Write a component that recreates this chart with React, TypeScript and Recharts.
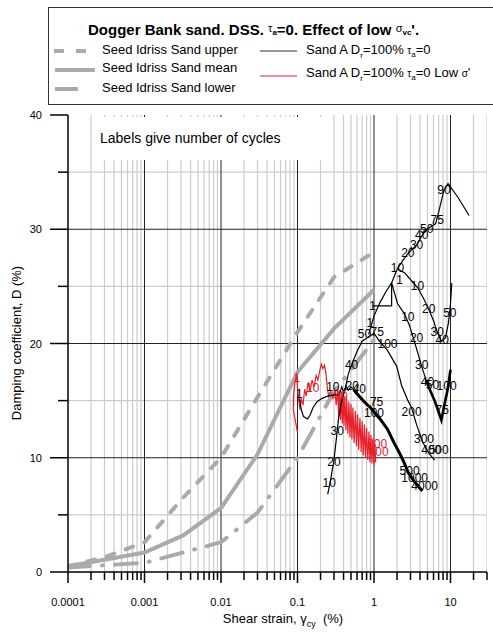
import { ComposedChart, Line, Scatter, XAxis, YAxis } from "recharts";

const xTickLabels = ["0.0001", "0.001", "0.01", "0.1", "1", "10"];
const yTickLabels = ["0", "10", "20", "30", "40"];

// Seed & Idriss bounds (gray)
const seedUpper = [
  [0.0001, 0.5], [0.0003, 1.3], [0.001, 2.6], [0.003, 6.3], [0.01, 10],
  [0.03, 15.3], [0.1, 21], [0.3, 25.8], [1, 28],
];
const seedMean = [
  [0.0001, 0.5], [0.001, 1.7], [0.0032, 3.2], [0.01, 5.6], [0.03, 10.3],
  [0.1, 17.5], [0.3, 21.3], [1, 24.7],
];
const seedLower = [
  [0.0001, 0.4], [0.001, 0.8], [0.01, 2.6], [0.03, 5.2], [0.1, 10],
  [0.3, 15.8], [1, 20.3],
];

// Sand A, Dr=100%, tau_a=0
const testA = [
  [0.248, 6.8], [0.27, 8], [0.3, 9.8], [0.32, 11.5], [0.345, 13.5], [0.38, 15],
  [0.42, 16], [0.46, 17.3], [0.52, 18.3], [0.6, 19.3], [0.7, 20.2], [0.85, 20.6],
  [1.0, 20.9], [1.15, 20.3], [1.5, 19.4], [1.98, 18], [2.3, 16.3], [2.78, 15],
  [3.1, 14.4], [3.6, 12.9], [4.3, 11.4], [5.2, 10.4], [6.2, 9.8],
];
const testB = [
  [0.85, 20.8], [1.0, 22.4], [1.2, 23.6], [1.45, 24.6], [1.7, 25.3], [2.0, 26.5],
  [2.4, 27.3], [2.8, 27.9], [3.6, 28.6], [4.2, 29.4], [4.9, 30.0], [5.8, 30.3],
  [6.4, 30.5], [7.0, 31.5], [8.2, 33.4], [9.3, 34.0], [12.5, 32.8], [17.5, 31.2],
];
const testEThin = [
  [0.96, 23.3], [1.7, 23.3], [1.7, 25.3], [2.03, 23.5], [2.5, 22.6], [2.9, 21.6],
  [3.4, 20.1], [3.8, 19.0], [4.2, 18.0], [4.8, 16.8],
];
const testEThick = [
  [4.8, 16.8], [5.5, 15.8], [6.2, 15.0], [7.0, 14.0], [7.6, 13.3], [8.3, 14.6],
  [9.2, 16.0], [10, 17.7],
];
const testD = [
  [2.05, 26.5], [2.5, 26.2], [3.0, 25.6], [3.7, 24.9], [4.4, 24.0], [5.2, 23.0],
  [6.0, 22.0], [6.7, 21.0], [7.6, 20.2], [8.6, 20.5], [9.4, 21.8], [10, 23.5],
  [10.4, 25.3],
];
const testFThin = [
  [0.106, 15.2], [0.112, 14.2], [0.12, 13.6], [0.135, 13.4], [0.145, 13.7],
  [0.16, 14.4], [0.18, 14.9], [0.21, 15.2], [0.25, 15.4], [0.3, 15.5], [0.35, 15.5],
  [0.38, 16.2], [0.4, 15.7], [0.43, 16.3], [0.46, 15.9], [0.5, 16.2], [0.55, 15.9],
];
const testFThick = [
  [0.55, 15.9], [0.6, 15.6], [0.7, 15.1], [0.8, 14.7], [0.9, 14.4], [1.0, 14.0],
  [1.2, 13.4], [1.5, 12.5], [1.8, 11.4], [2.2, 10.3], [2.5, 9.5], [2.8, 8.7],
  [3.3, 8.0], [3.9, 7.4], [4.3, 7.1],
];

// Sand A, low sigma' (red)
const testLow = [
  [0.1, 12.2], [0.094, 13.2], [0.088, 14.2], [0.089, 15.5], [0.092, 16.5], [0.097, 17.3],
  [0.1, 16.2], [0.104, 15], [0.108, 14.2], [0.112, 15.2], [0.118, 14.6], [0.124, 16],
  [0.13, 15.4], [0.138, 16.6], [0.146, 15.8], [0.155, 16.8], [0.165, 16.2], [0.175, 17.2],
  [0.185, 16.8], [0.195, 17.6], [0.205, 18.2], [0.215, 17.8], [0.225, 18.1], [0.235, 17.4],
  [0.245, 16.2], [0.255, 15.4], [0.27, 15.8], [0.29, 15.2], [0.31, 15.9], [0.32, 14.6],
  [0.335, 16.0], [0.345, 13.6], [0.355, 15.9], [0.365, 13.3], [0.375, 15.8], [0.385, 13.0],
  [0.395, 15.6], [0.405, 12.8], [0.415, 15.4], [0.43, 12.4], [0.44, 15.2], [0.455, 12.1],
  [0.47, 14.9], [0.485, 11.8], [0.5, 14.7], [0.515, 11.6], [0.53, 14.4], [0.55, 11.3],
  [0.57, 14.1], [0.59, 11.0], [0.61, 13.8], [0.63, 10.7], [0.655, 13.5], [0.68, 10.5],
  [0.7, 13.2], [0.725, 10.2], [0.75, 12.9], [0.775, 10.0], [0.8, 12.6], [0.83, 9.8],
  [0.86, 12.3], [0.885, 9.6], [0.91, 12.0], [0.94, 9.5], [0.97, 11.7], [1.0, 9.4],
  [1.03, 11.2], [1.05, 9.6],
];

// cycle-count labels: [x, y, text]
const labelsBlack: [number, number, string][] = [
  [0.26, 7.8, "10"], [0.3, 9.6, "20"], [0.33, 12.3, "30"], [0.51, 18.1, "40"],
  [0.75, 20.8, "50"], [1.1, 21.0, "75"], [1.5, 20.0, "100"], [3.1, 14.0, "200"],
  [4.5, 11.6, "300"], [5.6, 10.7, "400"], [7.0, 10.7, "500"],
  [0.88, 21.8, "1"], [2.03, 26.6, "10"], [2.77, 27.9, "20"], [3.6, 28.6, "30"],
  [4.2, 29.5, "40"], [4.9, 30.0, "50"], [6.7, 30.8, "75"], [8.2, 33.4, "90"],
  [0.96, 23.3, "1"], [2.77, 22.3, "10"], [3.6, 20.5, "20"], [4.2, 18.1, "30"],
  [5.0, 16.6, "40"], [5.8, 16.4, "50"], [7.8, 14.2, "75"], [8.9, 16.3, "100"],
  [2.16, 25.6, "1"], [3.7, 25.0, "10"], [5.2, 23.0, "20"], [6.7, 21.0, "30"],
  [7.8, 20.3, "40"], [9.8, 22.7, "50"],
  [0.106, 15.6, "1"], [0.29, 16.2, "10"], [0.52, 16.3, "20"], [0.64, 16.0, "40"],
  [1.08, 14.9, "75"], [1.0, 13.9, "100"], [2.92, 8.8, "500"], [3.4, 8.2, "1000"],
  [4.6, 7.5, "4000"],
];
const labelsRed: [number, number, string][] = [
  [0.098, 17.0, "1"], [0.158, 16.1, "10"], [0.37, 15.4, "40"], [1.1, 11.2, "300"],
  [1.15, 10.5, "400"],
];

const pts = (a: number[][]) => a.map(([x, y]) => ({ x, y }));
const lbl = (a: [number, number, string][]) => a.map(([x, y, t]) => ({ x, y, t }));

const decades = xTickLabels.map(Number);
const minorX = decades
  .flatMap((d) => [2, 3, 4, 5, 6, 7, 8, 9].map((m) => Number((m * d).toPrecision(3))))
  .filter((v) => v <= 30);
const xTicks = [...decades, ...minorX].sort((a, b) => a - b);
const yTicks = [0, 5, 10, 15, 20, 25, 30, 35, 40];

const vLines = (vals: number[]) =>
  vals.flatMap((v) => [{ x: v, y: 0 }, { x: v, y: 40 }, { x: v, y: null }]);
const hLines = (vals: number[]) =>
  vals.flatMap((h) => [{ x: 0.0001, y: h }, { x: 30, y: h }, { x: 30, y: null }]);

const FONT = "Arial, 'Liberation Sans', sans-serif";

const XTick = (p: any) => {
  const v = p.payload.value;
  const i = decades.indexOf(v);
  const major = i >= 0;
  return (
    <g>
      <line x1={p.x} x2={p.x} y1={p.y} y2={p.y + (major ? 11 : 8)} stroke="#000" strokeWidth={1.5} />
      {major && (
        <text x={p.x} y={p.y + 34} textAnchor="middle" fontSize={11} fontFamily={FONT} fill="#000">
          {xTickLabels[i]}
        </text>
      )}
    </g>
  );
};

const YTick = (p: any) => {
  const v = p.payload.value;
  const i = yTickLabels.indexOf(String(v));
  const major = i >= 0;
  return (
    <g>
      <line x1={p.x - (major ? 18 : 10)} x2={p.x} y1={p.y} y2={p.y} stroke="#000" strokeWidth={1.5} />
      {major && (
        <text x={p.x - 26} y={p.y + 4} textAnchor="end" fontSize={11} fontFamily={FONT} fill="#000">
          {yTickLabels[i]}
        </text>
      )}
    </g>
  );
};

const textShape = (color: string) => (p: any) => (
  <text
    x={p.cx}
    y={p.cy}
    textAnchor="middle"
    dominantBaseline="central"
    fontSize={12}
    fontFamily={FONT}
    fill={color}
  >
    {p.payload.t}
  </text>
);

const GRAY = "#aaaaaa";
const RED = "#e8202a";

export default function App() {
  return (
    <div style={{ position: "absolute", left: 0, top: 0, width: 493, height: 633, fontFamily: FONT, background: "#fff" }}>
      <ComposedChart width={493} height={633} margin={{ top: 115, right: 6, bottom: 60, left: 67 }}>
        <XAxis
          dataKey="x"
          type="number"
          scale="log"
          domain={[0.0001, 30]}
          allowDataOverflow
          ticks={xTicks}
          interval={0}
          height={1}
          tickSize={0}
          tickMargin={0}
          tickLine={false}
          tick={XTick}
          axisLine={{ stroke: "#000", strokeWidth: 1.5 }}
        />
        <YAxis
          dataKey="y"
          type="number"
          domain={[0, 40]}
          allowDataOverflow
          ticks={yTicks}
          interval={0}
          width={1}
          tickSize={0}
          tickMargin={0}
          tickLine={false}
          tick={YTick}
          axisLine={{ stroke: "#000", strokeWidth: 1.5 }}
        />

        {/* grid */}
        <Line data={vLines(minorX)} dataKey="y" stroke="#cccccc" strokeWidth={1.2} dot={false} activeDot={false} isAnimationActive={false} />
        <Line data={hLines([5, 15, 25, 35])} dataKey="y" stroke="#cccccc" strokeWidth={1.2} dot={false} activeDot={false} isAnimationActive={false} />
        <Line data={vLines(decades.slice(1))} dataKey="y" stroke="#222" strokeWidth={1} dot={false} activeDot={false} isAnimationActive={false} />
        <Line data={hLines([10, 20, 30])} dataKey="y" stroke="#222" strokeWidth={1} dot={false} activeDot={false} isAnimationActive={false} />

        {/* Seed & Idriss */}
        <Line data={pts(seedUpper)} dataKey="y" stroke={GRAY} strokeWidth={4} strokeDasharray="8 12" strokeLinecap="round" dot={false} activeDot={false} isAnimationActive={false} />
        <Line data={pts(seedMean)} dataKey="y" stroke={GRAY} strokeWidth={4} dot={false} activeDot={false} isAnimationActive={false} />
        <Line data={pts(seedLower)} dataKey="y" stroke={GRAY} strokeWidth={4} strokeDasharray="22 12 1 12" strokeLinecap="round" dot={false} activeDot={false} isAnimationActive={false} />

        {/* low sigma' test */}
        <Line data={pts(testLow)} dataKey="y" type="linear" stroke={RED} strokeWidth={1.2} dot={false} activeDot={false} isAnimationActive={false} />

        {/* Sand A tests */}
        <Line data={pts(testA)} dataKey="y" stroke="#000" strokeWidth={1.2} dot={false} activeDot={false} isAnimationActive={false} />
        <Line data={pts(testB)} dataKey="y" stroke="#000" strokeWidth={1.2} dot={false} activeDot={false} isAnimationActive={false} />
        <Line data={pts(testEThin)} dataKey="y" stroke="#000" strokeWidth={1.2} dot={false} activeDot={false} isAnimationActive={false} />
        <Line data={pts(testEThick)} dataKey="y" stroke="#000" strokeWidth={2.6} dot={false} activeDot={false} isAnimationActive={false} />
        <Line data={pts(testD)} dataKey="y" stroke="#000" strokeWidth={1.2} dot={false} activeDot={false} isAnimationActive={false} />
        <Line data={pts(testFThin)} dataKey="y" stroke="#000" strokeWidth={1.2} dot={false} activeDot={false} isAnimationActive={false} />
        <Line data={pts(testFThick)} dataKey="y" stroke="#000" strokeWidth={3} dot={false} activeDot={false} isAnimationActive={false} />

        <Scatter data={lbl(labelsBlack)} dataKey="y" shape={textShape("#000")} isAnimationActive={false} />
        <Scatter data={lbl(labelsRed)} dataKey="y" shape={textShape(RED)} isAnimationActive={false} />
      </ComposedChart>

      {/* note box */}
      <div style={{ position: "absolute", left: 92, top: 117, width: 234, height: 43, background: "#fff", fontSize: 14, lineHeight: "43px", paddingLeft: 8, boxSizing: "border-box", color: "#000" }}>
        Labels give number of cycles
      </div>

      {/* axis titles */}
      <div style={{ position: "absolute", left: 0, width: 566, top: 611, textAlign: "center", fontSize: 13, lineHeight: "16px", color: "#000" }}>
        Shear strain, γ<sub style={{ fontSize: 9 }}>cy</sub>&nbsp; (%)
      </div>
      <div style={{ position: "absolute", left: 17 - 100, top: 343 - 8, width: 200, height: 16, textAlign: "center", fontSize: 13, lineHeight: "16px", transform: "rotate(-90deg)", color: "#000", whiteSpace: "nowrap" }}>
        Damping coefficient, D (%)
      </div>

      {/* legend box */}
      <div style={{ position: "absolute", left: 48, top: 7, width: 450, height: 98, border: "1.5px solid #333", background: "#fff", boxSizing: "border-box" }} />
      <svg width={493} height={110} style={{ position: "absolute", left: 0, top: 0 }}>
        <line x1={54} x2={88} y1={51} y2={51} stroke={GRAY} strokeWidth={4} strokeDasharray="10 12" />
        <line x1={55} x2={95} y1={70} y2={70} stroke={GRAY} strokeWidth={4} />
        <line x1={55} x2={78} y1={89} y2={89} stroke={GRAY} strokeWidth={4} />
        <line x1={260} x2={297} y1={51} y2={51} stroke="#333" strokeWidth={1.2} />
        <line x1={260} x2={297} y1={76} y2={76} stroke={RED} strokeWidth={1} />
      </svg>
      <div style={{ position: "absolute", left: 88, top: 18, fontSize: 15, fontWeight: "bold", lineHeight: "20px", whiteSpace: "nowrap", color: "#000" }}>
        Dogger Bank sand. DSS. <span style={{ fontWeight: "normal", fontSize: 11, verticalAlign: 3 }}>τ<sub style={{ fontSize: 8, fontWeight: "bold" }}>a</sub></span>=0. Effect of low <span style={{ fontWeight: "normal", fontSize: 11, verticalAlign: 3 }}>σ<sub style={{ fontSize: 8, fontWeight: "bold" }}>vc</sub></span>'.
      </div>
      <div style={{ position: "absolute", left: 102, top: 42, fontSize: 13, lineHeight: "16px", whiteSpace: "nowrap", color: "#000" }}>Seed Idriss Sand upper</div>
      <div style={{ position: "absolute", left: 102, top: 60, fontSize: 13, lineHeight: "16px", whiteSpace: "nowrap", color: "#000" }}>Seed Idriss Sand mean</div>
      <div style={{ position: "absolute", left: 102, top: 80, fontSize: 13, lineHeight: "16px", whiteSpace: "nowrap", color: "#000" }}>Seed Idriss Sand lower</div>
      <div style={{ position: "absolute", left: 306, top: 42, fontSize: 13, lineHeight: "16px", whiteSpace: "nowrap", color: "#000" }}>
        Sand A D<sub style={{ fontSize: 8 }}>r</sub>=100% <span style={{ fontSize: 10 }}>τ<sub style={{ fontSize: 8 }}>a</sub></span>=0
      </div>
      <div style={{ position: "absolute", left: 306, top: 65, fontSize: 13, lineHeight: "16px", whiteSpace: "nowrap", color: "#000" }}>
        Sand A D<sub style={{ fontSize: 8 }}>r</sub>=100% <span style={{ fontSize: 10 }}>τ<sub style={{ fontSize: 8 }}>a</sub></span>=0 Low <span style={{ fontSize: 10 }}>σ</span>'
      </div>
    </div>
  );
}
